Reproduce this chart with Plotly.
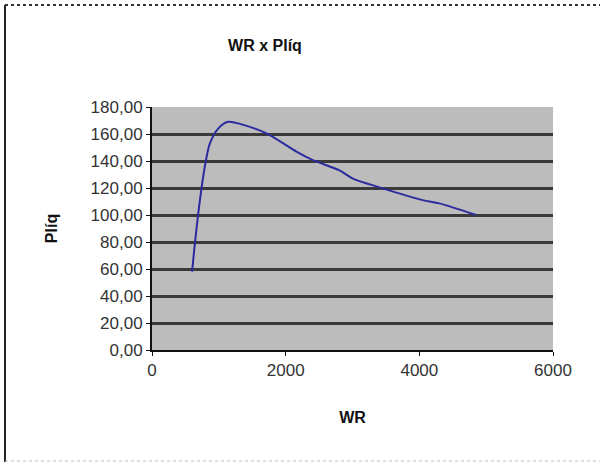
import plotly.graph_objects as go

# Data
wr = [600, 642, 717, 791, 866, 990, 1140, 1314, 1712, 2160, 2408, 2807, 3006, 3404, 4050, 4300, 4848]
pliq = [58, 79, 111, 136, 153, 164, 169, 167.5, 160.5, 147, 140.7, 133, 127, 120.5, 111, 108.6, 100]

y_ticks = [0, 20, 40, 60, 80, 100, 120, 140, 160, 180]
y_labels = ["0,00", "20,00", "40,00", "60,00", "80,00", "100,00", "120,00", "140,00", "160,00", "180,00"]
x_ticks = [0, 2000, 4000, 6000]
x_labels = ["0", "2000", "4000", "6000"]

W, H = 600, 463
L, R, T, B = 152, 47, 107, 113
pw, ph = W - L - R, H - T - B

def px(x):
    return (x - L) / pw

def py(y):
    return (H - B - y) / ph

FONT = "Liberation Sans, Arial, sans-serif"

fig = go.Figure()
fig.add_trace(go.Scatter(
    x=wr, y=pliq, mode="lines",
    line=dict(color="#2b2ba0", width=2, shape="spline", smoothing=0.8),
    hoverinfo="skip", showlegend=False,
))

fig.update_layout(
    width=W, height=H,
    margin=dict(l=L, r=R, t=T, b=B, pad=0),
    paper_bgcolor="white",
    plot_bgcolor="#bcbcbc",
    font=dict(family=FONT, size=17, color="#222"),
    title=dict(text="<b>WR x Plíq</b>", x=265 / W, xanchor="center",
               y=1 - 45 / H, yanchor="middle",
               font=dict(family=FONT, size=16, color="#111")),
    xaxis=dict(
        range=[0, 6000], tickvals=x_ticks, ticktext=x_labels,
        showgrid=False, zeroline=False,
        showline=True, linecolor="#111", linewidth=2,
        ticks="outside", ticklen=4, tickcolor="#111", tickwidth=1,
        tickfont=dict(size=17, color="#333"),
        title=dict(text="<b>WR</b>", standoff=32, font=dict(size=16, color="#111")),
    ),
    yaxis=dict(
        range=[0, 180], tickvals=y_ticks, ticktext=y_labels,
        showgrid=True, gridcolor="#3a3a3a", gridwidth=3,
        zeroline=False,
        showline=True, linecolor="#111", linewidth=2,
        ticks="outside", ticklen=4, tickcolor="#111", tickwidth=1,
        tickfont=dict(size=17, color="#333"),
        title=dict(text="<b>Plíq</b>", standoff=29, font=dict(size=16, color="#111")),
    ),
    shapes=[
        dict(type="line", xref="paper", yref="paper", x0=px(5), x1=px(600), y0=py(5), y1=py(5),
             line=dict(color="#333", width=2, dash="dot")),
        dict(type="line", xref="paper", yref="paper", x0=px(5), x1=px(5), y0=py(5), y1=py(462),
             line=dict(color="#222", width=2)),
        dict(type="line", xref="paper", yref="paper", x0=px(5), x1=px(600), y0=py(461), y1=py(461),
             line=dict(color="#bbb", width=1, dash="dot")),
    ],
)

fig.write_html("out.html")
